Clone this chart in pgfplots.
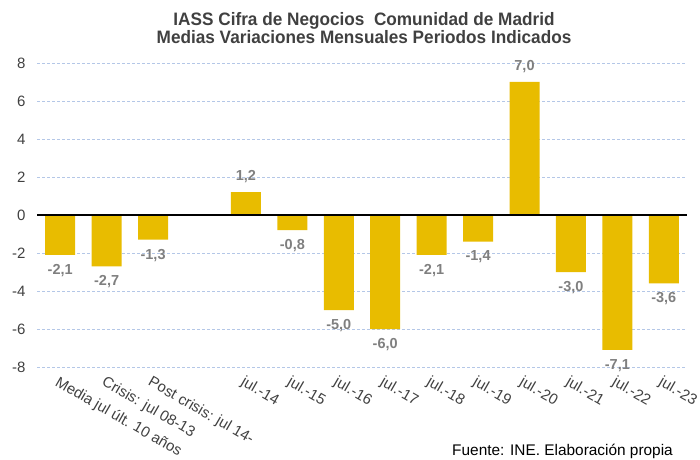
\documentclass[border=0pt]{standalone}
\usepackage{fontspec}
\setmainfont{Liberation Sans}
\usepackage{pgfplots}
\pgfplotsset{compat=1.18}
\definecolor{barc}{RGB}{232,188,0}
\definecolor{gridc}{RGB}{180,199,231}
\definecolor{labc}{RGB}{127,127,127}
\definecolor{txtc}{RGB}{64,64,64}
\begin{document}
\begin{tikzpicture}
\useasboundingbox (-37pt,-92pt) rectangle (663pt,367pt);
\begin{axis}[
  at={(0pt,0pt)}, anchor=south west,
  scale only axis, width=650pt, height=304pt,
  xmin=-0.5, xmax=13.5, ymin=-8, ymax=8,
  ytick={-8,-6,...,8},
  xtick={0,...,13},
  xticklabels={Media jul últ. 10 años, Crisis: jul 08-13, Post crisis: jul 14-, {}, jul.-14, jul.-15, jul.-16, jul.-17, jul.-18, jul.-19, jul.-20, jul.-21, jul.-22, jul.-23},
  axis line style={draw=none},
  major tick length=0pt,
  ymajorgrids, grid style={gridc, dash pattern=on 3pt off 2pt, line width=0.8pt},
  yticklabel style={font=\fontsize{15}{17}\selectfont, text=txtc, xshift=-8pt, /pgf/number format/fixed zerofill=false, /pgf/number format/precision=0},
  xticklabel style={font=\fontsize{15}{17}\selectfont, text=txtc, yshift=-5.5pt, xshift=-1pt, rotate=-30, anchor=north west, inner sep=2pt},
  ybar, bar width=30pt, bar shift=0pt,
  nodes near coords,
  nodes near coords style={font=\bfseries\fontsize{14.5}{16}\selectfont, text=labc, inner sep=9pt},
  /pgf/number format/.cd, fixed, fixed zerofill, precision=1, use comma, assume math mode=true,
]
\addplot[fill=barc, draw=none] coordinates {
 (0,-2.1) (1,-2.7) (2,-1.3) (4,1.2) (5,-0.8) (6,-5.0) (7,-6.0) (8,-2.1) (9,-1.4) (10,7.0) (11,-3.0) (12,-7.1) (13,-3.6)
};
\draw[black, line width=1.2pt] (axis cs:-0.5,0) -- (axis cs:13.5,0);
\end{axis}
\node[anchor=base, font=\bfseries\fontsize{18}{20}\selectfont, text=txtc] at (327pt,342pt) {\scalebox{0.955}[1]{IASS Cifra de Negocios\ \ Comunidad de Madrid}};
\node[anchor=base, font=\bfseries\fontsize{18}{20}\selectfont, text=txtc] at (327pt,324pt) {\scalebox{0.955}[1]{Medias Variaciones Mensuales Periodos Indicados}};
\node[anchor=base east, font=\fontsize{15.4}{17}\selectfont, inner sep=0pt] at (636pt,-88.5pt) {Fuente: INE. Elaboración propia};
\end{tikzpicture}
\end{document}
